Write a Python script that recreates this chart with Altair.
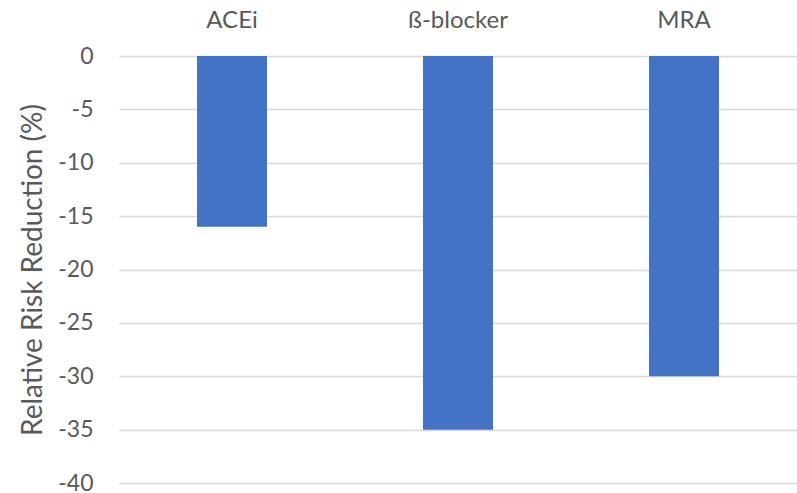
import altair as alt
import pandas as pd

categories = ["ACEi", "ß-blocker", "MRA"]
values = [-16, -35, -30]
y_ticks = [0, -5, -10, -15, -20, -25, -30, -35, -40]

df = pd.DataFrame({"drug": categories, "rrr": values})

FONT = "Lato"
TXT = "#595959"

chart = alt.Chart(df).mark_bar(color="#4472C4", size=70).encode(
    x=alt.X(
        "drug:N",
        sort=categories,
        scale=alt.Scale(paddingInner=0, paddingOuter=0),
        axis=alt.Axis(
            orient="top", title=None, ticks=False, domain=False, grid=False,
            labelAngle=0, labelFont=FONT, labelFontSize=24, labelColor=TXT,
            labelBaseline="middle", labelPadding=36,
        ),
    ),
    y=alt.Y(
        "rrr:Q",
        scale=alt.Scale(domain=[-40, 0], nice=False),
        axis=alt.Axis(
            title="Relative Risk Reduction (%)", values=y_ticks,
            labelExpr="toString(datum.value)",
            ticks=False, domain=False, grid=True, gridColor="#D9D9D9", gridWidth=1.5,
            labelFont=FONT, labelFontSize=23, labelColor=TXT, labelPadding=26,
            titleFont=FONT, titleFontSize=28, titleColor=TXT, titleFontWeight="normal",
            titleX=-86, titleY=213.5, titleAngle=270, titleBaseline="middle", titleAlign="center",
        ),
    ),
).properties(
    width=678, height=427,
    padding={"left": 119, "top": 56, "right": 0, "bottom": 10},
    autosize=alt.AutoSizeParams(type="none"),
).configure_view(stroke=None)

chart.save("out.html", embed_options={"renderer": "svg", "actions": False})
